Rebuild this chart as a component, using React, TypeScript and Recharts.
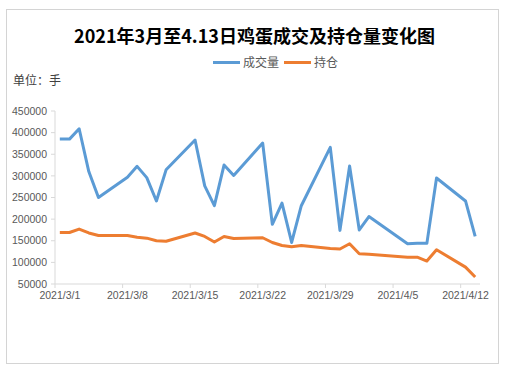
import React from "react";
import { LineChart, Line, XAxis, YAxis } from "recharts";

const dates = [
  "2021/3/1", "2021/3/2", "2021/3/3", "2021/3/4", "2021/3/5",
  "2021/3/8", "2021/3/9", "2021/3/10", "2021/3/11", "2021/3/12",
  "2021/3/15", "2021/3/16", "2021/3/17", "2021/3/18", "2021/3/19",
  "2021/3/22", "2021/3/23", "2021/3/24", "2021/3/25", "2021/3/26",
  "2021/3/29", "2021/3/30", "2021/3/31", "2021/4/1", "2021/4/2",
  "2021/4/6", "2021/4/7", "2021/4/8", "2021/4/9",
  "2021/4/12", "2021/4/13",
];

// 成交量
const volume = [
  385000, 385000, 409000, 310000, 250000,
  297000, 322000, 296000, 242000, 314000,
  383000, 277000, 231000, 325000, 301000,
  376000, 188000, 237000, 146000, 231000,
  366000, 174000, 323000, 175000, 206000,
  143000, 144000, 144000, 295000,
  242000, 160000,
];

// 持仓
const openInterest = [
  169000, 169000, 177000, 168000, 162000,
  162000, 158000, 156000, 150000, 149000,
  168000, 160000, 147000, 160000, 155000,
  157000, 146000, 139000, 136000, 139000,
  132000, 131000, 143000, 120000, 119000,
  112000, 112000, 103000, 129000,
  89000, 66000,
];

const xTickLabels = ["2021/3/1", "2021/3/8", "2021/3/15", "2021/3/22", "2021/3/29", "2021/4/5", "2021/4/12"];
const yTicks = [50000, 100000, 150000, 200000, 250000, 300000, 350000, 400000, 450000];

const BLUE = "#5B9BD5";
const ORANGE = "#ED7D31";
const AXIS = "#d9d9d9";
const TEXT = "#595959";
const FONT = "'Liberation Sans', Arial, sans-serif";
const CJK = "'Noto Sans CJK SC', sans-serif";

const toUtc = (s: string) => {
  const [y, m, d] = s.split("/").map(Number);
  return Date.UTC(y, m - 1, d);
};
const dayIndex = (s: string) => Math.round((toUtc(s) - toUtc(dates[0])) / 864e5);

const data = dates.map((d, i) => ({ day: dayIndex(d), volume: volume[i], oi: openInterest[i] }));

// date axis: one slot per day from 3/1 to 4/13, ticks on slot edges, labels in slot centres
const lastDay = dayIndex("2021/4/13");
const tickEdges = xTickLabels.map((l) => dayIndex(l) - 0.5);

const W = 509;
const H = 370;
const margin = { top: 111, right: 29, left: 5, bottom: 56 };
const yAxisWidth = 50;
const halfSlot = (W - margin.left - margin.right - yAxisWidth) / (lastDay + 1) / 2;

function DateTick(props: any) {
  const { x, y, payload } = props;
  const idx = tickEdges.indexOf(payload.value);
  return (
    <text x={x + halfSlot} y={y} dy="0.71em" textAnchor="middle" fill={TEXT} fontSize={10.5} fontFamily={FONT}>
      {xTickLabels[idx]}
    </text>
  );
}

const legendItems = [
  { name: "成交量", color: BLUE },
  { name: "持仓", color: ORANGE },
];

export default function App() {
  return (
    <div style={{ position: "fixed", left: 0, top: 0, width: W, height: H, background: "#fff" }}>
      <div
        style={{
          position: "absolute", left: 6, top: 9, width: 493, height: 355,
          border: "1px solid #d4d4d4", boxSizing: "border-box",
        }}
      />
      <div
        style={{
          position: "absolute", left: 0, top: 25, width: W, textAlign: "center",
          fontFamily: CJK, fontWeight: 700, fontSize: 18, lineHeight: "20px", color: "#000",
        }}
      >
        2021年3月至4.13日鸡蛋成交及持仓量变化图
      </div>
      <div
        style={{
          position: "absolute", left: 213, top: 54, display: "flex", alignItems: "center",
          fontFamily: CJK, fontSize: 12, lineHeight: "16px", color: TEXT,
        }}
      >
        {legendItems.map((it) => (
          <div key={it.name} style={{ display: "flex", alignItems: "center", marginRight: 5 }}>
            <span style={{ display: "inline-block", width: 27, height: 3, background: it.color, marginRight: 3 }} />
            <span>{it.name}</span>
          </div>
        ))}
      </div>
      <div
        style={{
          position: "absolute", left: 13, top: 72, fontFamily: CJK, fontSize: 12,
          lineHeight: "16px", color: "#404040",
        }}
      >
        单位：手
      </div>
      <div style={{ position: "absolute", left: 0, top: 0 }}>
        <LineChart width={W} height={H} data={data} margin={margin}>
          <XAxis
            dataKey="day"
            type="number"
            domain={[-0.5, lastDay + 0.5]}
            ticks={tickEdges}
            interval={0}
            stroke={AXIS}
            tickSize={4}
            tickMargin={4}
            tick={<DateTick />}
            height={30}
          />
          <YAxis
            type="number"
            domain={[50000, 450000]}
            ticks={yTicks}
            interval={0}
            width={yAxisWidth}
            stroke={AXIS}
            tickSize={4}
            tickMargin={4}
            tick={{ fill: TEXT, fontSize: 10.5, fontFamily: FONT }}
          />
          <Line
            name="成交量"
            dataKey="volume"
            type="linear"
            stroke={BLUE}
            strokeWidth={3}
            strokeLinejoin="round"
            dot={false}
            isAnimationActive={false}
          />
          <Line
            name="持仓"
            dataKey="oi"
            type="linear"
            stroke={ORANGE}
            strokeWidth={3}
            strokeLinejoin="round"
            dot={false}
            isAnimationActive={false}
          />
        </LineChart>
      </div>
    </div>
  );
}
